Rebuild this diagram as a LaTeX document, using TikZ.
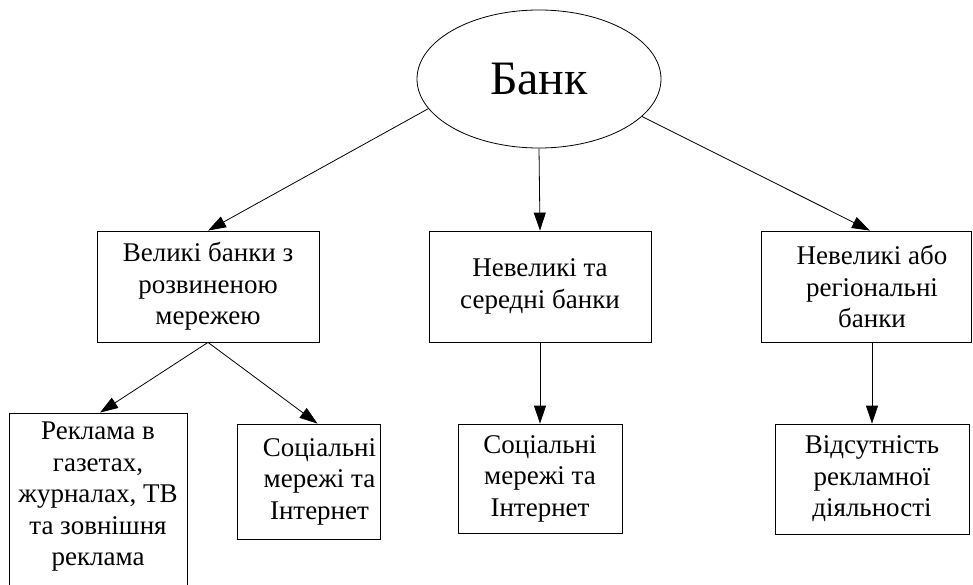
\documentclass[tikz,border=0pt]{standalone}
\usepackage{fontspec}
\setmainfont{Liberation Serif}
\usetikzlibrary{arrows.meta,shapes.geometric}
\newcommand\boxfs{\fontsize{27}{31.5}\selectfont}
\tikzset{
  box/.style={draw, line width=0.8pt, inner sep=0pt, rectangle},
  lbl/.style={align=center, font=\boxfs, inner sep=0pt},
  arr/.style={-{Triangle[length=18pt,width=12pt]}, line width=0.8pt},
}
\begin{document}
\begin{tikzpicture}[x=1pt,y=-1pt]
\useasboundingbox (0,0) rectangle (973,585);
% root
\node[draw, ellipse, line width=0.8pt, minimum width=244pt, minimum height=138pt, inner sep=0pt, font=\fontsize{48}{56}\selectfont] (bank) at (539,79) {Банк};
% level 1
\node[box, minimum width=222pt, minimum height=111pt] (b1) at (208,286.5) {};
\node[lbl] (t1) at (b1.center) {Великі банки з\\розвиненою\\мережею};
\node[box, minimum width=222pt, minimum height=111pt] (b2) at (540,286.5) {};
\node[lbl] (t2) at (b2.center) {Невеликі та\\середні банки};
\node[box, minimum width=210pt, minimum height=111pt] (b3) at (866,286.5) {};
\node[lbl] (t3) at ([xshift=6pt]b3.center) {Невеликі або\\регіональні\\банки};
% level 2
\node[box, minimum width=178pt, minimum height=180pt] (c1) at (98,503) {};
\node[lbl] (tc1) at (98,497) {Реклама в\\газетах,\\журналах, ТВ\\та зовнішня\\реклама};
\node[box, minimum width=143pt, minimum height=115pt] (c2) at (308.5,481.5) {};
\node[lbl] (tc2) at ([xshift=11pt]c2.center) {Соціальні\\мережі та\\Інтернет};
\node[box, minimum width=164pt, minimum height=109pt] (c3) at (540,478.5) {};
\node[lbl] (tc3) at (c3.center) {Соціальні\\мережі та\\Інтернет};
\node[box, minimum width=194pt, minimum height=110pt] (c4) at (872,479) {};
\node[lbl] (tc4) at (c4.center) {Відсутність\\рекламної\\діяльності};
% connectors
\draw[arr] (bank.195) -- (b1.north);
\draw[arr] (bank.south) -- (b2.north);
\draw[arr] (bank.340) -- ([xshift=4pt]b3.north);
\draw[arr] (b1.south) -- ([xshift=2pt]c1.north);
\draw[arr] (b1.south) -- ([xshift=9pt]c2.north);
\draw[arr] (b2.south) -- (c3.north);
\draw[arr] ([xshift=6pt]b3.south) -- (c4.north);
\end{tikzpicture}
\end{document}
